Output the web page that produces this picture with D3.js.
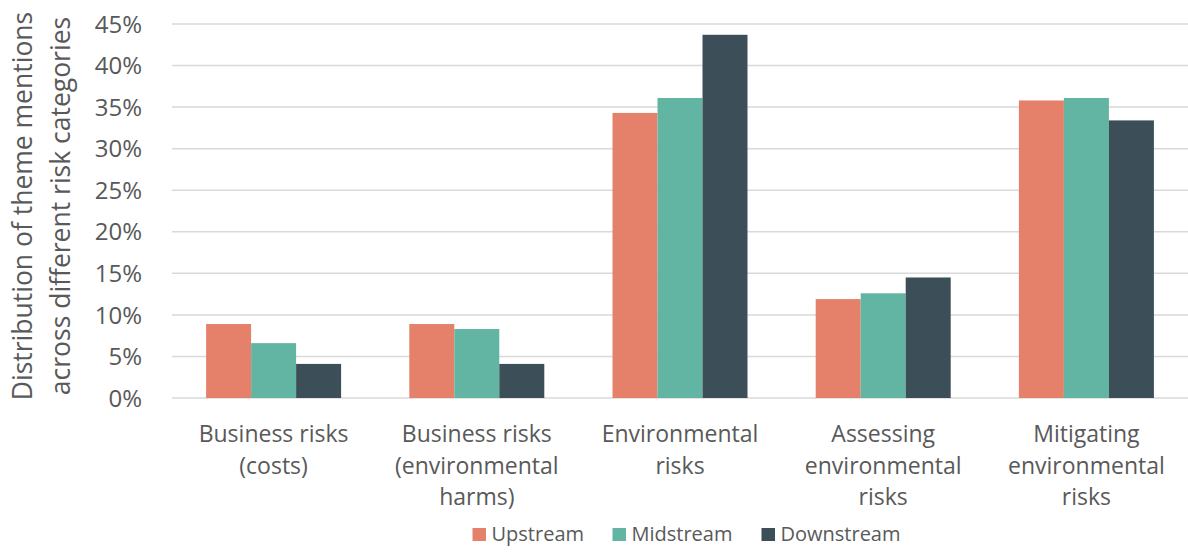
<!DOCTYPE html>
<html><head><meta charset="utf-8">
<script src="https://cdn.jsdelivr.net/npm/d3@7"></script>
<style>body{margin:0;background:#fff}svg{display:block}</style>
</head><body><svg id="c" width="1188" height="552"></svg>
<script>
const categories = [
  ["Business risks", "(costs)"],
  ["Business risks", "(environmental", "harms)"],
  ["Environmental", "risks"],
  ["Assessing", "environmental", "risks"],
  ["Mitigating", "environmental", "risks"]
];
const seriesNames = ["Upstream", "Midstream", "Downstream"];
const upstream = [8.9, 8.9, 34.3, 11.9, 35.8];
const midstream = [6.6, 8.3, 36.1, 12.6, 36.1];
const downstream = [4.1, 4.1, 43.7, 14.5, 33.4];
const colors = ["#E5816B", "#62B5A2", "#3C4F59"];
const yTicks = [0,5,10,15,20,25,30,35,40,45];
const yTitle = ["Distribution of theme mentions", "across different risk categories"];

(function(){
const series = [upstream, midstream, downstream];
const svg = d3.select("#c");
const font = "'Open Sans', sans-serif";
const txt = "#595959";
const mLeft = 172, mRight = 1188, mTop = 24, mBottom = 398;

const x = d3.scaleBand().domain(d3.range(categories.length)).range([mLeft, mRight]).paddingInner(0).paddingOuter(0);
const y = d3.scaleLinear().domain([0, 45]).range([mBottom, mTop]);
const groupW = 135;
const xs = d3.scaleBand().domain(d3.range(series.length)).range([0, groupW]);

svg.append("g").selectAll("line").data(yTicks).join("line")
  .attr("x1", mLeft).attr("x2", mRight)
  .attr("y1", d => y(d)).attr("y2", d => y(d))
  .attr("stroke", "#d9d9d9").attr("stroke-width", 1.5);

svg.append("g").selectAll("text").data(yTicks).join("text")
  .attr("x", 142).attr("y", d => y(d)).attr("dy", "0.36em")
  .attr("text-anchor", "end").attr("font-family", font).attr("font-size", 24)
  .attr("fill", txt).text(d => d + "%");

const g = svg.append("g").selectAll("g").data(categories).join("g")
  .attr("transform", (d, i) => `translate(${x(i) + (x.bandwidth() - groupW) / 2},0)`);
g.selectAll("rect").data((d, i) => series.map((s, k) => ({k, v: s[i]}))).join("rect")
  .attr("x", d => xs(d.k)).attr("width", xs.bandwidth())
  .attr("y", d => y(d.v)).attr("height", d => y(0) - y(d.v))
  .attr("fill", d => colors[d.k]);

svg.append("g").selectAll("text").data(categories).join("text")
  .attr("text-anchor", "middle").attr("font-family", font).attr("font-size", 23).attr("fill", txt)
  .each(function(d, i) {
    const t = d3.select(this);
    const cx = x(i) + x.bandwidth() / 2;
    d.forEach((line, j) => t.append("tspan").attr("x", cx).attr("y", 442 + j * 31.5).text(line));
  });

const yt = svg.append("text").attr("transform", "translate(0,206) rotate(-90)")
  .attr("text-anchor", "middle").attr("font-family", font).attr("font-size", 26.5).attr("fill", txt);
yTitle.forEach((l, j) => yt.append("tspan").attr("x", 0).attr("y", 32 + j * 38).text(l));

const legX = [472.5, 612.5, 761.5];
const lg = svg.append("g").selectAll("g").data(seriesNames).join("g")
  .attr("transform", (d, i) => `translate(${legX[i]},0)`);
lg.append("rect").attr("x", 0).attr("y", 528).attr("width", 13.5).attr("height", 13)
  .attr("fill", (d, i) => colors[i]);
lg.append("text").attr("x", 19).attr("y", 541).attr("font-family", font).attr("font-size", 20)
  .attr("fill", txt).text(d => d);
})();
</script></body></html>
